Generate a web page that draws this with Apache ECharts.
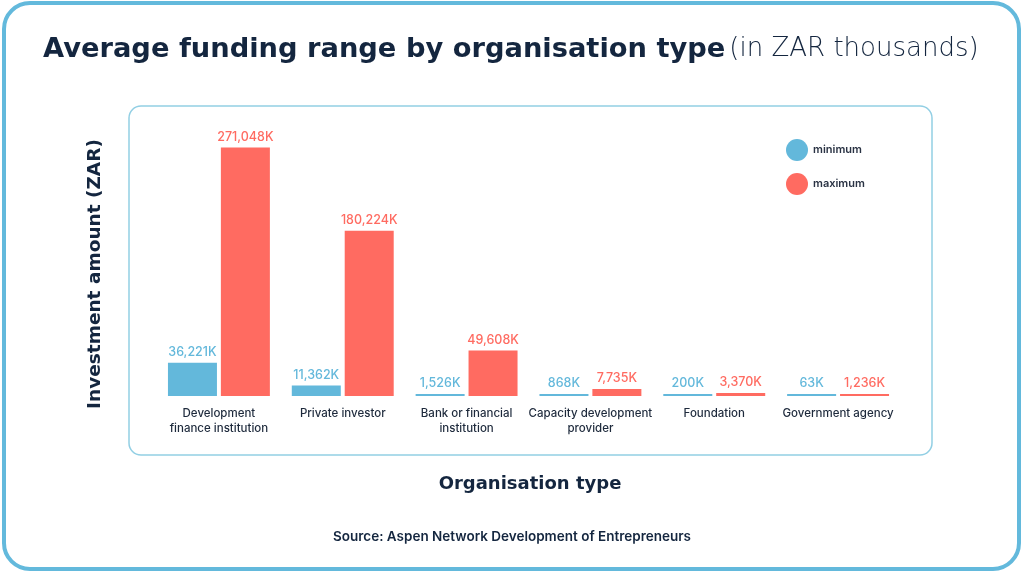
<!DOCTYPE html>
<html><head><meta charset="utf-8">
<style>html,body{margin:0;padding:0;background:#fff}#c{width:1024px;height:574px}</style>
<script src="https://cdn.jsdelivr.net/npm/echarts@6/dist/echarts.min.js"></script>
</head><body><div id="c"></div>
<script>
var categories = ['Development\nfinance institution','Private investor','Bank or financial\ninstitution','Capacity development\nprovider','Foundation','Government agency'];
var minimum = [36221, 11362, 1526, 868, 200, 63];
var maximum = [271048, 180224, 49608, 7735, 3370, 1236];
var FONT = 'Inter, "Noto Sans", sans-serif';
var WIDE = '"DejaVu Sans", sans-serif';
var DARK = '#14263f';
var BLUE = '#63b8db';
var RED = '#ff6b61';
function fmt(p){ return p.value.toLocaleString('en-US') + 'K'; }
var chart = echarts.init(document.getElementById('c'), null, {renderer:'canvas'});
chart.setOption({
  backgroundColor:'#fff',
  animation:false,
  textStyle:{fontFamily:FONT},
  title:{
    text:'{b|Average funding range by organisation type}{g|}{r|(in ZAR thousands)}',
    left:38, top:31,
    textStyle:{rich:{
      b:{fontFamily:WIDE,fontSize:27.3,fontWeight:'bold',color:DARK},
      g:{width:4},
      r:{fontFamily:WIDE,fontSize:26,fontWeight:200,color:DARK}
    }}
  },
  graphic:[
    {type:'rect',shape:{x:4,y:3,width:1015,height:566,r:26},style:{fill:'none',stroke:'#63b9dc',lineWidth:4},z:-1},
    {type:'rect',shape:{x:129,y:106,width:803,height:349,r:12},style:{fill:'none',stroke:'#92cfe4',lineWidth:1.5},z:-1},
    {type:'text',x:95,y:274,rotation:Math.PI/2,style:{text:'Investment amount (ZAR)',font:'bold 18.5px '+WIDE,fill:DARK,align:'center',verticalAlign:'middle'}},
    {type:'text',x:530,y:484,style:{text:'Organisation type',font:'bold 18px '+WIDE,fill:DARK,align:'center',verticalAlign:'middle'}},
    {type:'text',left:'center',top:530,style:{text:'Source: Aspen Network Development of Entrepreneurs',font:'600 13.5px '+FONT,fill:DARK}}
  ],
  legend:{
    orient:'vertical',left:786,top:139,padding:0,itemWidth:22,itemHeight:22,itemGap:12,icon:'circle',
    textStyle:{fontFamily:FONT,fontSize:11,fontWeight:600,color:'#2a3344'},
    data:['minimum','maximum']
  },
  grid:{left:157,right:124,top:121,bottom:178},
  xAxis:{
    type:'category',data:categories,
    axisLine:{show:false},axisTick:{show:false},
    axisLabel:{interval:0,margin:10,fontFamily:FONT,fontSize:11.5,fontWeight:500,color:'#1e2a3c',lineHeight:15}
  },
  yAxis:{
    type:'value',min:0,max:300000,
    axisLine:{show:false},axisTick:{show:false},axisLabel:{show:false},splitLine:{show:false}
  },
  series:[
    {name:'minimum',type:'bar',data:minimum,barWidth:49,barGap:'8%',barMinHeight:2,
     itemStyle:{color:BLUE},
     label:{show:true,position:'top',distance:4,formatter:fmt,fontFamily:FONT,fontSize:12.5,fontWeight:500,color:BLUE}},
    {name:'maximum',type:'bar',data:maximum,barWidth:49,barMinHeight:2,
     itemStyle:{color:RED},
     label:{show:true,position:'top',distance:4,formatter:fmt,fontFamily:FONT,fontSize:12.5,fontWeight:500,color:RED}}
  ]
});
</script></body></html>
